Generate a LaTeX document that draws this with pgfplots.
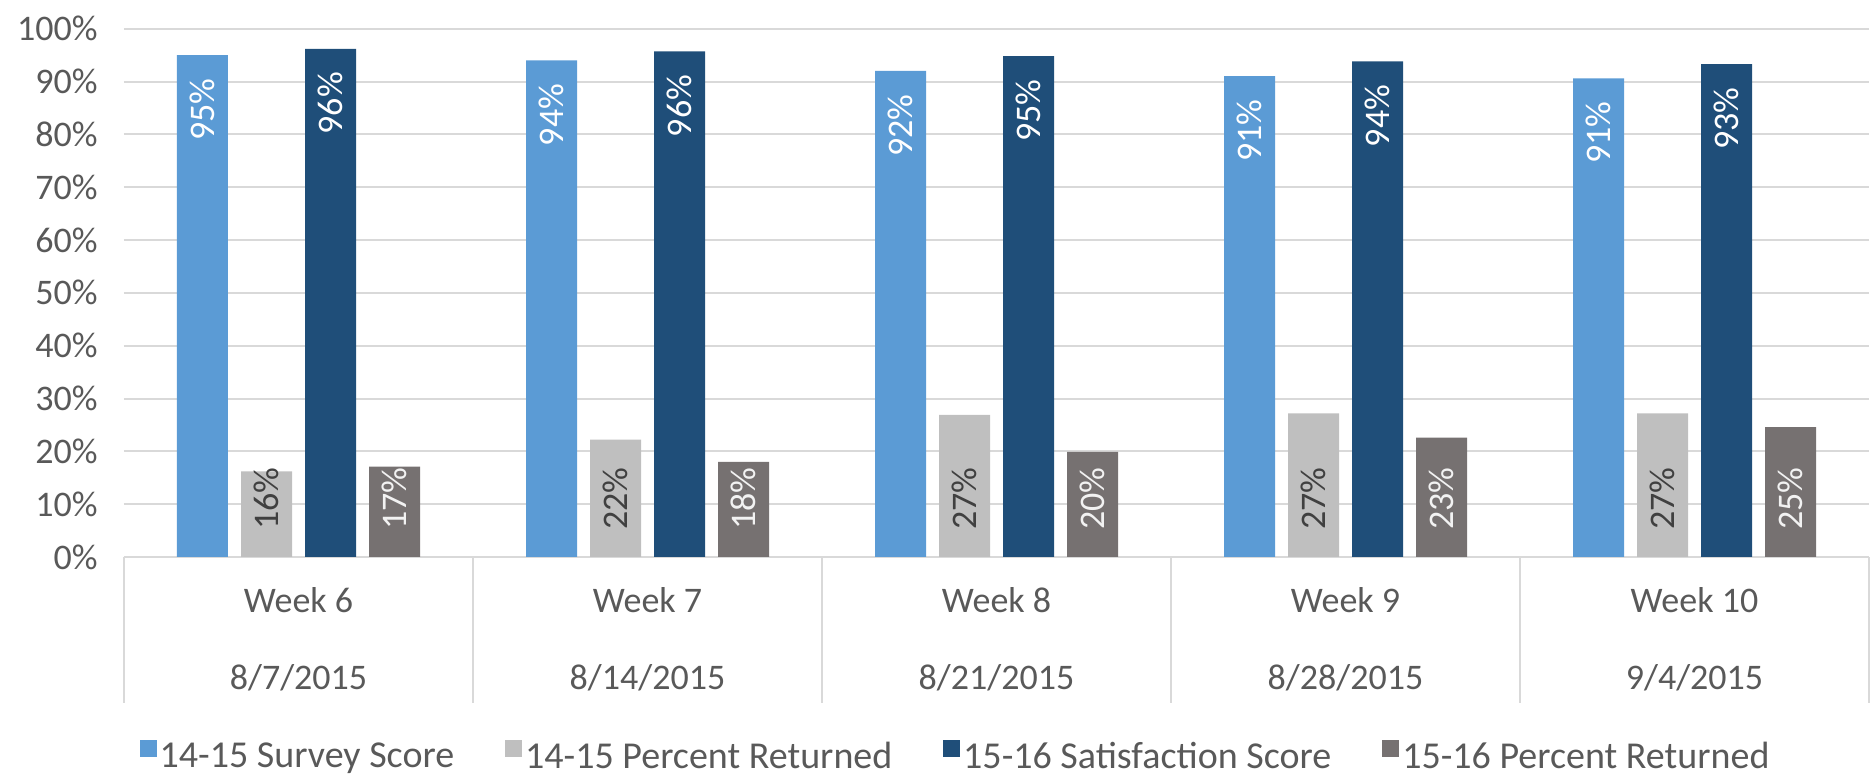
\documentclass[border=0pt]{standalone}
\usepackage{pgfplots}
\pgfplotsset{compat=1.18}
\usepackage{fontspec}
\setmainfont{Carlito}
\definecolor{c1}{HTML}{5B9BD5}
\definecolor{c2}{HTML}{BFBFBF}
\definecolor{c3}{HTML}{1F4E79}
\definecolor{c4}{HTML}{767171}
\definecolor{txt}{HTML}{595959}
\definecolor{gridc}{HTML}{D9D9D9}
\definecolor{lbldark}{HTML}{404040}
\definecolor{lbllight}{HTML}{F2F2F2}
\newcommand{\lblfont}{\fontsize{18}{21.6}\selectfont}
\newcommand{\legfont}{\fontsize{19}{22.8}\selectfont}
\pgfplotsset{
  endlabel/.style={nodes near coords={\pgfmathprintnumber[fixed,precision=0]{\pgfplotspointmeta}\%},
    nodes near coords style={yshift=-11.5pt, rotate=90, anchor=east, inner sep=0pt, font=\lblfont, text=#1}},
  baselabel/.style={visualization depends on={rawy \as \rawy},
    nodes near coords={\pgfmathprintnumber[fixed,precision=0]{\pgfplotspointmeta}\%},
    nodes near coords style={yshift={13.5pt-2.6415pt*\rawy}, rotate=90, anchor=west, inner sep=0pt, font=\lblfont, text=#1}},
}
\begin{document}
\begin{tikzpicture}
\path[use as bounding box] (-62pt,-111pt) rectangle (875pt,278.5pt);
\begin{axis}[
  scale only axis, width=872.5pt, height=264.15pt,
  xmin=-0.5, xmax=4.5, ymin=0, ymax=100,
  ybar=6.5pt, bar width=25.5pt,
  axis line style={draw=none},
  ymajorgrids, grid style={color=gridc, line width=1pt},
  ytick={0,10,...,100},
  yticklabel={\pgfmathprintnumber{\tick}\%},
  /pgf/number format/assume math mode=true,
  ytick style={draw=none},
  yticklabel style={font=\lblfont, text=txt, anchor=east, inner sep=0pt, xshift=-13pt},
  xtick={0,...,4},
  xticklabels={{Week 6\\[16.9pt]8/7/2015},{Week 7\\[16.9pt]8/14/2015},{Week 8\\[16.9pt]8/21/2015},{Week 9\\[16.9pt]8/28/2015},{Week 10\\[16.9pt]9/4/2015}},
  xticklabel style={font=\lblfont, text=txt, align=center, anchor=north, inner sep=0pt, yshift=-15.2pt},
  minor xtick={-0.5,0.5,...,4.5},
  major tick length=0pt, minor tick length=73pt, tick align=outside, xtick pos=bottom,
  xtick style={color=gridc, line width=1pt},
  legend columns=4,
  legend style={at={(0.4768,-0.3786)}, anchor=center, draw=none, fill=none, font=\legfont, text=txt,
    /tikz/every even column/.append style={column sep=24pt}, nodes={inner xsep=1.5pt}},
]
\addplot[fill=c1, draw=none, endlabel=white, legend image code/.code={\fill[c1] (0pt,0pt) rectangle (8.5pt,8.5pt);}]
  coordinates {(0,95.0) (1,94.0) (2,92.0) (3,91.0) (4,90.6)};
\addlegendentry{14-15 Survey Score}
\addplot[fill=c2, draw=none, baselabel=lbldark, legend image code/.code={\fill[c2] (0pt,0pt) rectangle (8.5pt,8.5pt);}]
  coordinates {(0,16.2) (1,22.2) (2,26.9) (3,27.2) (4,27.2)};
\addlegendentry{14-15 Percent Returned}
\addplot[fill=c3, draw=none, endlabel=white, legend image code/.code={\fill[c3] (0pt,0pt) rectangle (8.5pt,8.5pt);}]
  coordinates {(0,96.2) (1,95.7) (2,94.8) (3,93.8) (4,93.3)};
\addlegendentry{15-16 Satisfaction Score}
\addplot[fill=c4, draw=none, baselabel=lbllight, legend image code/.code={\fill[c4] (0pt,0pt) rectangle (8.5pt,8.5pt);}]
  coordinates {(0,17.1) (1,18.0) (2,19.9) (3,22.6) (4,24.6)};
\addlegendentry{15-16 Percent Returned}
\end{axis}
\end{tikzpicture}
\end{document}
